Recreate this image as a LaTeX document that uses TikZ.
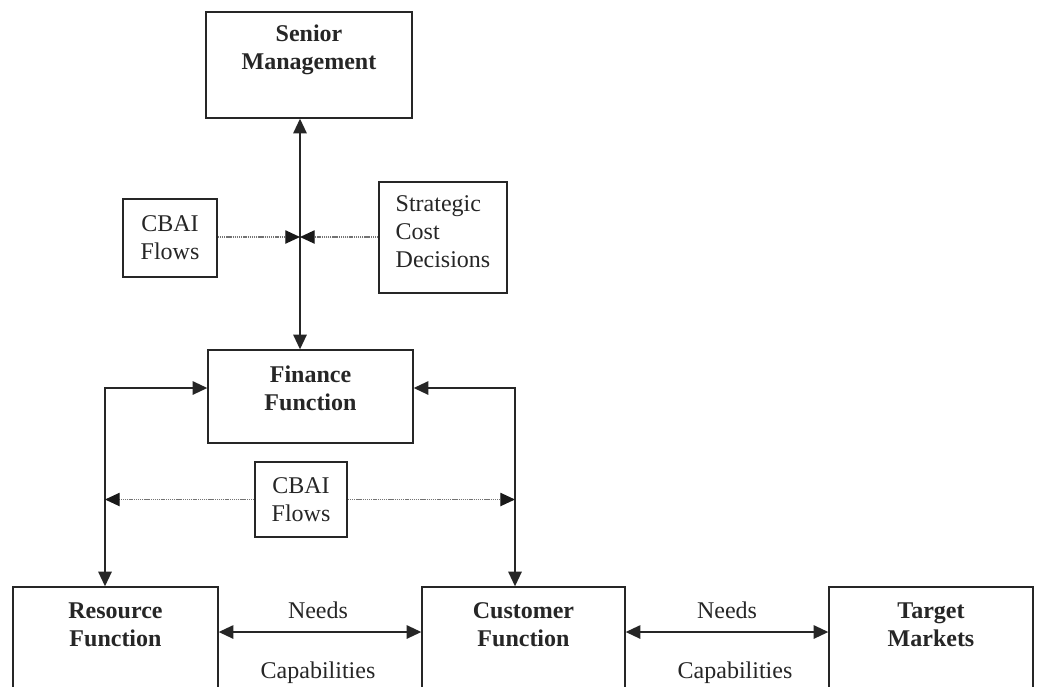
\documentclass[tikz,border=0pt]{standalone}
\usepackage{fontspec}
\setmainfont{Liberation Serif}
\usetikzlibrary{arrows.meta}
\tikzset{
  tip/.style={Triangle[length=11pt,width=10pt,color=black!90]},
  box/.style={draw=black!85, line width=1pt, inner sep=0pt},
  btxt/.style={font=\fontsize{18}{21}\selectfont\bfseries, align=center, text=black!85, inner sep=0pt},
  rtxt/.style={font=\fontsize{18}{21}\selectfont, align=center, text=black!85, inner sep=0pt},
  conn/.style={line width=1.3pt, draw=black!85, {Triangle[length=11pt,width=10pt]}-{Triangle[length=11pt,width=10pt]}},
  flow/.style={line width=0.9pt, draw=black!55, dash pattern=on 1pt off 0.6pt, -{Triangle[length=11pt,width=10pt,color=black!90]}}
}
\begin{document}
\begin{tikzpicture}[x=0.75pt,y=-0.75pt]
\clip (0,0) rectangle (1039,686);
\fill[white] (0,0) rectangle (1039,686);
% boxes
\node[box, minimum width=154.5pt, minimum height=79.5pt] (sm) at (309,65) {};
\node[btxt] (smt) at (309,50) {Senior\\Management};
\node[box, minimum width=70.5pt, minimum height=58.5pt, rtxt] (cb1) at (170,238) {CBAI\\Flows};
\node[box, minimum width=96pt, minimum height=83.25pt] (scd) at (443,237.5) {};
\node[rtxt, align=left] (scdt) at (443,232) {Strategic\\Cost\\Decisions};
\node[box, minimum width=153.75pt, minimum height=69.75pt] (ff) at (310.5,396.5) {};
\node[btxt] (fft) at (310.5,388) {Finance\\Function};
\node[box, minimum width=69pt, minimum height=56.25pt, rtxt] (cb2) at (301,499.5) {CBAI\\Flows};
\node[box, minimum width=153.75pt, minimum height=84.75pt] (rf) at (115.5,643.5) {};
\node[btxt] (rft) at (115.5,625) {Resource\\Function};
\node[box, minimum width=152.25pt, minimum height=84.75pt] (cf) at (523.5,643.5) {};
\node[btxt] (cft) at (523.5,625) {Customer\\Function};
\node[box, minimum width=153pt, minimum height=84.75pt] (tm) at (931,643.5) {};
\node[btxt] (tmt) at (931,625) {Target\\Markets};
% coordinates
\coordinate (S) at (300,237);
\coordinate (L) at (105,388);
\coordinate (R) at (515,388);
\coordinate (row) at (0,632);
% connectors
\draw[conn] (sm.south -| S) -- (ff.north -| S);
\draw[flow] (cb1.east |- S) -- (S);
\draw[flow] (scd.west |- S) -- (S);
\draw[conn] (rf.north -| L) -- (L) -- (ff.west |- L);
\draw[conn] (cf.north -| R) -- (R) -- (ff.east |- R);
\draw[flow] (cb2.west) -- (cb2.west -| L);
\draw[flow] (cb2.east) -- (cb2.east -| R);
\draw[conn] (rf.east |- row) -- (cf.west |- row);
\draw[conn] (cf.east |- row) -- (tm.west |- row);
% labels
\node[rtxt] (n1) at (318,610) {Needs};
\node[rtxt] (c1) at (318,673) {Capabilities};
\node[rtxt] (n2) at (727,610) {Needs};
\node[rtxt] (c2) at (735,673) {Capabilities};
\end{tikzpicture}
\end{document}
